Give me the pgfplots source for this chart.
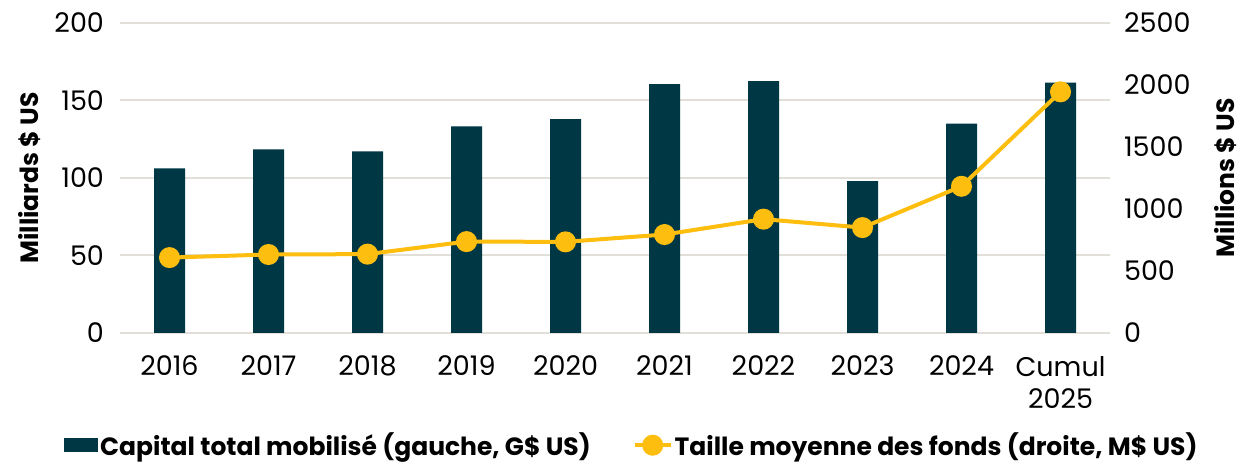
\documentclass[border=0pt]{standalone}
\usepackage{fontspec}
\setmainfont{Poppins}
\usepackage{pgfplots}
\pgfplotsset{compat=1.18}

\definecolor{barteal}{HTML}{003745}
\definecolor{lineyellow}{HTML}{FDBE10}
\definecolor{gridgray}{HTML}{E2DFD8}

\begin{document}
\begin{tikzpicture}
\useasboundingbox (0,0) rectangle (622.5pt,232pt);

\pgfplotsset{
    every axis/.append style={
        scale only axis,
        width=495pt, height=155pt,
        at={(60pt,65.5pt)}, anchor=south west,
        xmin=-0.5, xmax=9.5,
        tick style={draw=none},
        /pgf/number format/assume math mode=true,
        /pgf/number format/1000 sep={},
        ticklabel style={font=\fontsize{13.5}{16}\selectfont},
    }
}

% capital (left axis)
\begin{axis}[
    ymin=0, ymax=200,
    ytick={0,50,100,150,200},
    ymajorgrids=true,
    grid style={gridgray, line width=1pt},
    axis line style={draw=none},
    xtick={0,1,2,3,4,5,6,7,8,9},
    xticklabels={2016,2017,2018,2019,2020,2021,2022,2023,2024,{Cumul\\2025}},
    xticklabel style={align=center, yshift=-8pt},
    yticklabel style={xshift=-4.5pt},
    ylabel={Milliards \$ US},
    every axis y label/.style={at={(-45pt,0.5)}, rotate=90, anchor=center,
        font=\fontsize{12.5}{15}\selectfont\bfseries},
    legend style={at={(0.517,-0.362)}, anchor=center, draw=none,
        font=\fontsize{12.5}{15}\selectfont\bfseries,
        nodes={inner xsep=1pt},
        /tikz/every even column/.append style={column sep=20pt}},
    legend columns=2,
]
\addplot[ybar, bar width=15.5pt, fill=barteal, draw=none, bar shift=0pt,
    legend image code/.code={\fill[barteal] (0pt,-3.5pt) rectangle (17pt,3.5pt);}]
    coordinates {(0,106.2)(1,118.5)(2,117.2)(3,133.3)(4,138.0)(5,160.5)(6,162.5)(7,97.9)(8,135.0)(9,161.6)};
\addlegendentry{Capital total mobilisé (gauche, G\$ US)}
\addlegendimage{lineyellow, line width=2pt, mark=*, mark size=4.25pt,
    legend image code/.code={
        \draw[lineyellow, line width=2pt] (0pt,0pt) -- (18pt,0pt);
        \fill[lineyellow] (9pt,0pt) circle (4.25pt);}}
\addlegendentry{Taille moyenne des fonds (droite, M\$ US)}
\end{axis}

% fund size (right axis)
\begin{axis}[
    ymin=0, ymax=2500,
    ytick={0,500,1000,1500,2000,2500},
    axis y line*=right,
    axis x line=none,
    axis line style={draw=none},
    yticklabel style={xshift=3.5pt},
    ylabel={Millions \$ US},
    every axis y label/.style={at={(1,0.5)}, xshift=58pt, rotate=90, anchor=center,
        font=\fontsize{12.5}{15}\selectfont\bfseries},
]
\addplot[lineyellow, line width=2pt, mark=*, mark size=4.25pt]
    coordinates {(0,608)(1,633)(2,636)(3,737)(4,735)(5,794)(6,918)(7,850)(8,1183)(9,1945)};
\end{axis}
\end{tikzpicture}
\end{document}
